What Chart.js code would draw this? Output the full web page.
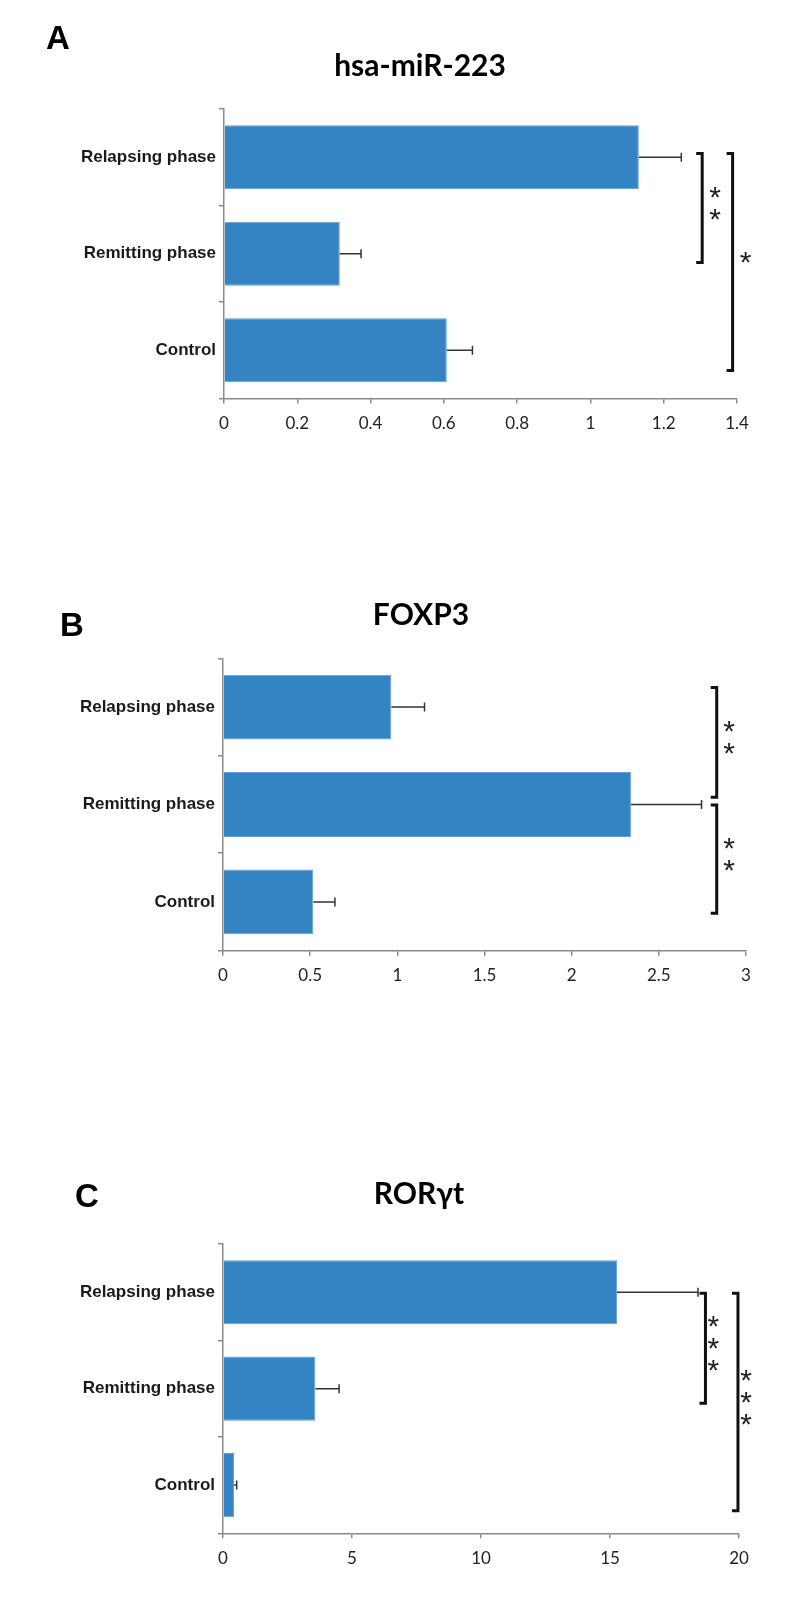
<!DOCTYPE html>
<html>
<head>
<meta charset="utf-8">
<script src="https://cdn.jsdelivr.net/npm/chart.js@4.4.1/dist/chart.umd.min.js"></script>
<style>
  body { margin: 0; background: #fff; }
  canvas { position: absolute; left: 0; }
</style>
</head>
<body>
<canvas id="chartA" width="789" height="520" style="top:0px"></canvas>
<canvas id="chartB" width="789" height="580" style="top:520px"></canvas>
<canvas id="chartC" width="789" height="509" style="top:1100px"></canvas>
<script>
const groups = ['Relapsing phase', 'Remitting phase', 'Control'];

const mirValues = [1.132, 0.316, 0.608];
const mirErrors = [0.116, 0.058, 0.070];
const mirTicks = [0, 0.2, 0.4, 0.6, 0.8, 1, 1.2, 1.4];

const foxValues = [0.966, 2.34, 0.518];
const foxErrors = [0.19, 0.405, 0.124];
const foxTicks = [0, 0.5, 1, 1.5, 2, 2.5, 3];

const rorValues = [15.27, 3.58, 0.43];
const rorErrors = [3.14, 0.92, 0.10];
const rorTicks = [0, 5, 10, 15, 20];

// significance brackets: x in axis units, from/to in category units
const mirSig = [[1.305, -0.04, 1.09, '**'], [1.388, -0.04, 2.21, '*']];
const foxSig = [[2.832, -0.2, 0.926, '**'], [2.832, 1.005, 2.116, '**']];
const rorSig = [[18.7, 0.01, 1.152, '***'], [19.96, 0.01, 2.266, '***']];

const axisColor = '#8a8a8a';

// error bars, brackets, title and panel letter
const decor = {
  id: 'decor',
  afterDatasetsDraw(chart) {
    const ctx = chart.ctx;
    const xs = chart.scales.x;
    const ds = chart.data.datasets[0];
    ctx.save();
    ctx.strokeStyle = '#333';
    ctx.lineWidth = 1.5;
    chart.getDatasetMeta(0).data.forEach((bar, i) => {
      const x0 = xs.getPixelForValue(ds.data[i]);
      const x1 = xs.getPixelForValue(ds.data[i] + ds.errors[i]);
      ctx.beginPath();
      ctx.moveTo(x0, bar.y);
      ctx.lineTo(x1, bar.y);
      ctx.moveTo(x1, bar.y - 4.5);
      ctx.lineTo(x1, bar.y + 4.5);
      ctx.stroke();
    });
    ctx.restore();
  },
  afterDraw(chart, args, o) {
    const ctx = chart.ctx;
    const xs = chart.scales.x, ys = chart.scales.y;
    ctx.save();
    ctx.strokeStyle = '#111';
    ctx.lineWidth = 3;
    ctx.fillStyle = '#222';
    ctx.font = '30px "Liberation Sans"';
    ctx.textAlign = 'center';
    const m = ctx.measureText('*');
    const starShift = (m.actualBoundingBoxAscent - m.actualBoundingBoxDescent) / 2;
    o.sig.forEach(([xv, from, to, stars]) => {
      const x = xs.getPixelForValue(xv);
      const y0 = ys.getPixelForValue(from);
      const y1 = ys.getPixelForValue(to);
      ctx.beginPath();
      ctx.moveTo(x - 6, y0);
      ctx.lineTo(x, y0);
      ctx.lineTo(x, y1);
      ctx.lineTo(x - 6, y1);
      ctx.stroke();
      const mid = (y0 + y1) / 2 - 4.5;
      for (let k = 0; k < stars.length; k++) {
        const sy = mid + (k - (stars.length - 1) / 2) * 22;
        ctx.fillText('*', x + o.starGap, sy + starShift);
      }
    });

    ctx.fillStyle = '#000';
    ctx.font = 'bold 30px Lato';
    ctx.textAlign = 'center';
    ctx.textBaseline = 'alphabetic';
    ctx.fillText(o.title, o.titleX, o.titleY);

    ctx.font = 'bold 33px "Liberation Sans"';
    ctx.textAlign = 'left';
    ctx.fillText(o.letter, o.letterX, o.letterY);
    ctx.restore();
  }
};

function makePanel(id, p) {
  return new Chart(document.getElementById(id), {
    type: 'bar',
    data: {
      labels: groups,
      datasets: [{
        data: p.values,
        errors: p.errors,
        backgroundColor: '#3483c3',
        borderColor: '#62a0d6',
        borderWidth: 1,
        barPercentage: 0.665,
        categoryPercentage: 1
      }]
    },
    options: {
      indexAxis: 'y',
      responsive: false,
      devicePixelRatio: 1,
      animation: false,
      layout: { padding: p.padding },
      plugins: {
        legend: { display: false },
        tooltip: { enabled: false },
        decor: {
          sig: p.sig, starGap: p.starGap, title: p.title, titleX: p.titleX, titleY: p.titleY,
          letter: p.letter, letterX: p.letterX, letterY: p.letterY
        }
      },
      scales: {
        x: {
          min: p.ticks[0],
          max: p.ticks[p.ticks.length - 1],
          afterBuildTicks: s => { s.ticks = p.ticks.map(v => ({ value: v })); },
          afterFit: s => { s.height = 40; },
          grid: { drawOnChartArea: false, tickLength: 5, color: axisColor, lineWidth: 1.5 },
          border: { color: axisColor, width: 1.5 },
          ticks: { padding: 10, color: '#222', font: { family: 'Lato', size: 17 }, callback: v => String(v) }
        },
        y: {
          afterFit: s => { s.width = p.axisLeft; },
          grid: { drawOnChartArea: false, offset: true, tickLength: 5, color: axisColor, lineWidth: 1.5 },
          border: { color: axisColor, width: 1.5 },
          ticks: { padding: 3, color: '#1a1a1a', font: { family: 'Liberation Sans', weight: 'bold', size: 17 } }
        }
      }
    },
    plugins: [decor]
  });
}

makePanel('chartA', {
  values: mirValues, errors: mirErrors, ticks: mirTicks, sig: mirSig, starGap: 13,
  title: 'hsa-miR-223', titleX: 420, titleY: 76, letter: 'A', letterX: 46, letterY: 49,
  axisLeft: 224, padding: { top: 109, right: 52, bottom: 81.5, left: 0 }
});

makePanel('chartB', {
  values: foxValues, errors: foxErrors, ticks: foxTicks, sig: foxSig, starGap: 12.5,
  title: 'FOXP3', titleX: 421, titleY: 105, letter: 'B', letterX: 60, letterY: 116,
  axisLeft: 223, padding: { top: 138.3, right: 43, bottom: 109.3, left: 0 }
});

makePanel('chartC', {
  values: rorValues, errors: rorErrors, ticks: rorTicks, sig: rorSig, starGap: 8,
  title: 'RORγt', titleX: 419, titleY: 104, letter: 'C', letterX: 75, letterY: 107,
  axisLeft: 223, padding: { top: 144, right: 50, bottom: 35.7, left: 0 }
});
</script>
</body>
</html>
